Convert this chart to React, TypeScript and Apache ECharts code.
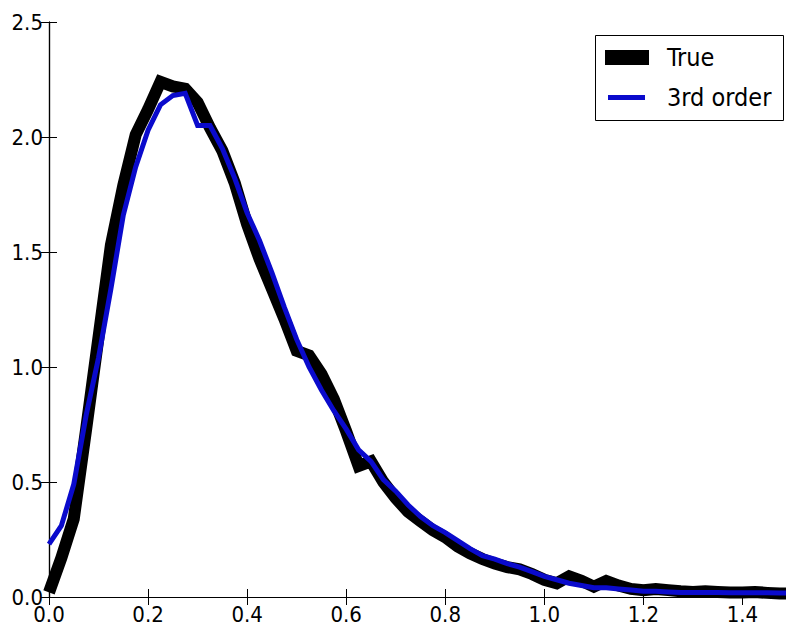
import React, { useEffect, useRef } from "react";
import * as echarts from "echarts";

const xValues = [
  0, 0.025, 0.05, 0.075, 0.1, 0.125, 0.15, 0.175, 0.2, 0.225, 0.25, 0.275, 0.3, 0.325, 0.35, 0.375,
  0.4, 0.425, 0.45, 0.475, 0.5, 0.525, 0.55, 0.575, 0.6, 0.625, 0.65, 0.675, 0.7, 0.725, 0.75, 0.775,
  0.8, 0.825, 0.85, 0.875, 0.9, 0.925, 0.95, 0.975, 1.0, 1.025, 1.05, 1.075, 1.1, 1.125, 1.15, 1.175,
  1.2, 1.225, 1.25, 1.275, 1.3, 1.325, 1.35, 1.375, 1.4, 1.425, 1.45, 1.475, 1.5,
];

const trueValues = [
  0.02, 0.17, 0.34, 0.73, 1.13, 1.53, 1.79, 2.01, 2.12, 2.24, 2.22, 2.21, 2.15, 2.04, 1.94, 1.8,
  1.62, 1.47, 1.34, 1.21, 1.07, 1.05, 0.97, 0.86, 0.72, 0.57, 0.59, 0.5, 0.43, 0.37, 0.33, 0.29,
  0.26, 0.22, 0.19, 0.165, 0.145, 0.13, 0.12, 0.1, 0.075, 0.06, 0.09, 0.07, 0.045, 0.07, 0.05, 0.035,
  0.03, 0.035, 0.03, 0.025, 0.022, 0.025, 0.022, 0.02, 0.02, 0.022, 0.018, 0.015, 0.015,
];

const thirdOrderValues = [
  0.23, 0.31, 0.49, 0.79, 1.04, 1.34, 1.66, 1.87, 2.03, 2.14, 2.18, 2.19, 2.05, 2.05, 1.95, 1.82,
  1.67, 1.55, 1.41, 1.26, 1.12, 1.0, 0.9, 0.81, 0.73, 0.64, 0.59, 0.51, 0.46, 0.4, 0.35, 0.31,
  0.28, 0.245, 0.21, 0.18, 0.165, 0.145, 0.13, 0.11, 0.09, 0.075, 0.06, 0.05, 0.04, 0.04, 0.035, 0.03,
  0.025, 0.025, 0.022, 0.02, 0.02, 0.02, 0.02, 0.018, 0.018, 0.018, 0.018, 0.017, 0.017,
];

const seriesNames = ["True", "3rd order"];
const FONT = '"DejaVu Sans Condensed", "DejaVu Sans", sans-serif';

export default function App() {
  const ref = useRef<HTMLDivElement>(null);

  useEffect(() => {
    if (!ref.current) return;
    const chart = echarts.init(ref.current, undefined, { renderer: "svg" });
    const axisCommon = {
      axisLine: { show: true, lineStyle: { color: "#000", width: 1.2 } },
      axisTick: { show: true, inside: true, length: 8, lineStyle: { color: "#000", width: 1 } },
      splitLine: { show: false },
    };
    const fmt = (v: number) => (Math.abs(v - 1.5) < 1e-9 ? "" : v.toFixed(1));
    chart.setOption({
      animation: false,
      backgroundColor: "#fff",
      grid: { left: 49, top: 22, right: 8, bottom: 31, containLabel: false, outerBoundsMode: "none" },
      xAxis: [
        {
          type: "value",
          position: "bottom",
          min: 0,
          max: 1.5,
          interval: 0.2,
          ...axisCommon,
          axisLabel: {
            show: true,
            color: "#000",
            fontFamily: FONT,
            fontSize: 22,
            margin: 6,
            showMaxLabel: false,
            formatter: fmt,
          },
        },
        {
          type: "value",
          position: "top",
          min: 0,
          max: 1.5,
          interval: 0.2,
          ...axisCommon,
          axisLabel: { show: false },
        },
      ],
      yAxis: [
        {
          type: "value",
          position: "left",
          min: 0,
          max: 2.5,
          interval: 0.5,
          ...axisCommon,
          axisLabel: {
            show: true,
            color: "#000",
            fontFamily: FONT,
            fontSize: 22,
            margin: 6,
            formatter: (v: number) => v.toFixed(1),
          },
        },
        {
          type: "value",
          position: "right",
          min: 0,
          max: 2.5,
          interval: 0.5,
          ...axisCommon,
          axisLabel: { show: false },
        },
      ],
      legend: [
        {
          data: [{ name: seriesNames[0], icon: "rect", itemStyle: { color: "#000" } }],
          left: 605,
          top: 45,
          padding: 0,
          itemWidth: 44,
          itemHeight: 15,
          selectedMode: false,
          textStyle: { color: "#000", fontFamily: FONT, fontSize: 25, padding: [0, 0, 0, 13] },
          z: 5,
        },
        {
          data: [{ name: seriesNames[1], icon: "rect", itemStyle: { color: "#0a0acc" } }],
          left: 608,
          top: 85,
          padding: 0,
          itemWidth: 37,
          itemHeight: 5,
          selectedMode: false,
          textStyle: { color: "#000", fontFamily: FONT, fontSize: 25, padding: [0, 0, 0, 17] },
          z: 5,
        },
      ],
      graphic: [
        {
          type: "rect",
          left: 595,
          top: 35,
          shape: { width: 188, height: 85 },
          style: { fill: "#fff", stroke: "#000", lineWidth: 1 },
          z: 4,
        },
      ],
      series: [
        {
          name: seriesNames[0],
          type: "line",
          xAxisIndex: 0,
          yAxisIndex: 0,
          symbol: "none",
          data: xValues.map((x, i) => [x, trueValues[i]]),
          lineStyle: { color: "#000", width: 12, join: "miter" },
          itemStyle: { color: "#000" },
          z: 2,
        },
        {
          name: seriesNames[1],
          type: "line",
          xAxisIndex: 0,
          yAxisIndex: 0,
          symbol: "none",
          data: xValues.map((x, i) => [x, thirdOrderValues[i]]),
          lineStyle: { color: "#0a0acc", width: 5, join: "miter" },
          itemStyle: { color: "#0a0acc" },
          z: 3,
        },
      ],
    });
    return () => chart.dispose();
  }, []);

  return (
    <div
      style={{
        position: "fixed",
        left: 0,
        top: 0,
        width: 786,
        height: 628,
        overflow: "hidden",
        background: "#fff",
      }}
    >
      <div ref={ref} style={{ width: 800, height: 628 }} />
    </div>
  );
}
